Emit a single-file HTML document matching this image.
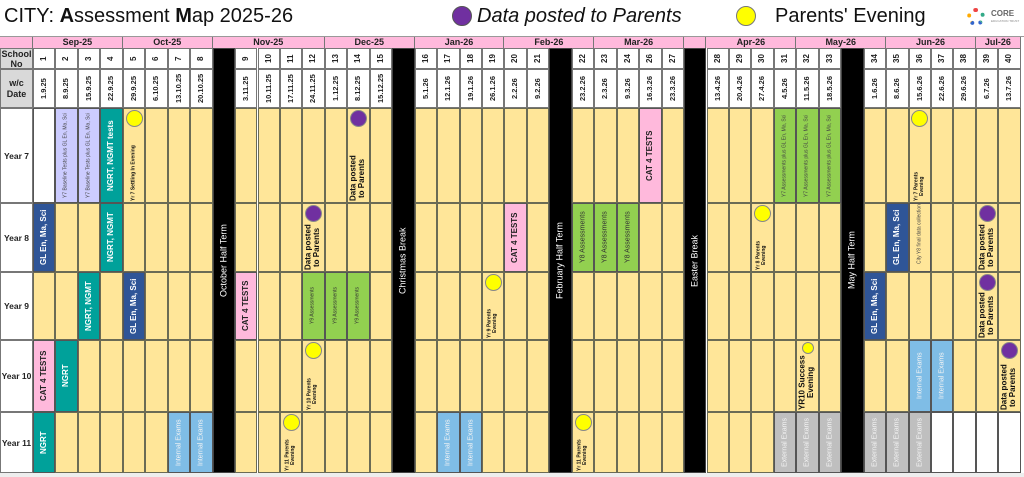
<!DOCTYPE html>
<html><head><meta charset="utf-8"><style>
*{margin:0;padding:0;box-sizing:border-box}
body{width:1024px;height:477px;background:#fff;position:relative;overflow:hidden;font-family:"Liberation Sans",sans-serif}
.a{position:absolute}
.v{display:flex;align-items:center;justify-content:center;writing-mode:vertical-rl;transform:rotate(180deg);text-align:center;line-height:1.1;width:100%;height:100%}
.c{border-radius:50%;border:1px solid #888}
</style></head><body>
<div class="a" style="left:4px;top:5px;font-size:20px;color:#111">CITY: <b>A</b>ssessment <b>M</b>ap 2025-26</div>
<div class="a c" style="left:452px;top:6px;width:20px;height:20px;background:#7030a0;border-color:#555"></div>
<div class="a" style="left:477px;top:5px;font-size:20px;font-style:italic;color:#111">Data posted to Parents</div>
<div class="a c" style="left:736px;top:6px;width:20px;height:20px;background:#ffff00;border-color:#777"></div>
<div class="a" style="left:775px;top:5px;font-size:20px;color:#111">Parents' Evening</div>
<div class="a c" style="left:967px;top:8px;width:18px;height:18px;border:4px dotted #c06;border-color:#e44 #3a8 #36c #fa0"></div>
<div class="a" style="left:991px;top:9px;font-size:8px;color:#666;font-weight:bold">CORE</div>
<div class="a" style="left:991px;top:19px;font-size:3px;color:#888">EDUCATION TRUST</div>
<div id="g"></div>
<script>
var g=document.getElementById('g');var h='';
function X(i){return 33+i*22.45}
function box(l,t,w,hh,st,inner){h+='<div class="a" style="left:'+l+'px;top:'+t+'px;width:'+w+'px;height:'+hh+'px;'+st+'">'+(inner||'')+'</div>';}
var W=22.45;
var rows=[[108,203,'Year 7'],[203,272,'Year 8'],[272,340,'Year 9'],[340,412,'Year 10'],[412,473,'Year 11']];
box(0,36,1024,1,'background:#999');
box(0,37,1021,11,'background:#ffb9dc');
var months=[[0,4,'Sep-25'],[4,8,'Oct-25'],[8,13,'Nov-25'],[13,17,'Dec-25'],[17,21,'Jan-26'],[21,25,'Feb-26'],[25,29,'Mar-26'],[29,30,''],[30,34,'Apr-26'],[34,38,'May-26'],[38,42,'Jun-26'],[42,44,'Jul-26']];
box(0,37,33,11,'border-right:1px solid #777');
months.forEach(function(m){box(X(m[0]),37,(m[1]-m[0])*W,11,'border-right:1px solid #777;font-size:9px;font-weight:bold;text-align:center;line-height:11px;color:#222',m[2]);});
box(0,48,33,21,'background:#d9d9d9;border:1px solid #777;font-size:9px;font-weight:bold;text-align:center;line-height:10px;color:#222','School<br>No');
box(0,69,33,39,'background:#d9d9d9;border:1px solid #777;font-size:9px;font-weight:bold;text-align:center;line-height:11px;padding-top:8px;color:#222','w/c<br>Date');
rows.forEach(function(r){box(0,r[0],33,r[1]-r[0],'background:#fff;border:1px solid #777;font-size:8.5px;font-weight:bold;display:flex;align-items:center;justify-content:center;white-space:nowrap;color:#222',r[2]);});
var nums=['1','2','3','4','5','6','7','8','','9','10','11','12','13','14','15','','16','17','18','19','20','21','','22','23','24','26','27','','28','29','30','31','32','33','','34','35','36','37','38','39','40'];
var dates=['1.9.25','8.9.25','15.9.25','22.9.25','29.9.25','6.10.25','13.10.25','20.10.25','','3.11.25','10.11.25','17.11.25','24.11.25','1.12.25','8.12.25','15.12.25','','5.1.26','12.1.26','19.1.26','26.1.26','2.2.26','9.2.26','','23.2.26','2.3.26','9.3.26','16.3.26','23.3.26','','13.4.26','20.4.26','27.4.26','4.5.26','11.5.26','18.5.26','','1.6.26','8.6.26','15.6.26','22.6.26','29.6.26','6.7.26','13.7.26'];
var brk={8:'October Half Term',16:'Christmas Break',23:'February Half Term',29:'Easter Break',36:'May Half Term'};
for(var i=0;i<44;i++){
 if(brk[i]){box(X(i),48,W,425,'background:#000;border:1px solid #444','<div class="v" style="color:#fff;font-size:9px;white-space:nowrap">'+brk[i]+'</div>');continue;}
 box(X(i),48,W,21,'background:#fff;border:1px solid #777','<div class="v" style="font-size:8px;font-weight:bold;color:#222">'+nums[i]+'</div>');
 box(X(i),69,W,39,'background:#fff;border:1px solid #777','<div class="v" style="font-size:7.5px;font-weight:bold;color:#222;white-space:nowrap">'+dates[i]+'</div>');
 rows.forEach(function(r){box(X(i),r[0],W,r[1]-r[0],'background:#ffe699;border:1px solid #6b6b55');});
}
function cell(c,r,bg,txt,st){var rr=rows[r];box(X(c),rr[0],W,rr[1]-rr[0],'background:'+bg+';border:1px solid #555','<div class="v" style="'+st+'">'+txt+'</div>');}
var teal='#00a19a',blue='#2f5597',pink='#ffb9dc',grn='#92d050',lb='#7fbde6',gry='#bfbfbf';
var wb='color:#fff;font-size:8px;font-weight:bold;white-space:nowrap;';
var bk='color:#222;font-size:8px;font-weight:bold;white-space:nowrap;';
var sm='color:#444;font-size:5px;padding:0 2px;';
var ex='color:#f4f4f4;font-size:7px;white-space:nowrap;';
cell(0,0,'#fff','','');
cell(1,0,'#ccccff','Y7 Baseline Tests plus GL En, Ma, Sci',sm);
cell(2,0,'#ccccff','Y7 Baseline Tests plus GL En, Ma, Sci',sm);
cell(3,0,teal,'NGRT, NGMT tests',wb);
cell(27,0,pink,'CAT 4 TESTS',bk);
[33,34,35].forEach(function(c){cell(c,0,grn,'Y7 Assessments plus GL En, Ma, Sci',sm);});
cell(0,1,blue,'GL En, Ma, Sci',wb);
cell(3,1,teal,'NGRT, NGMT',wb);
cell(21,1,pink,'CAT 4 TESTS',bk);
[24,25,26].forEach(function(c){cell(c,1,grn,'Y8 Assessments','color:#333;font-size:7px;white-space:nowrap;');});
cell(38,1,blue,'GL En, Ma, Sci',wb);
cell(39,1,'#ffe699','City Y8 final data collection',sm+'justify-content:flex-end;');
cell(2,2,teal,'NGRT, NGMT',wb);
cell(4,2,blue,'GL En, Ma, Sci',wb);
cell(9,2,pink,'CAT 4 TESTS',bk);
[12,13,14].forEach(function(c){cell(c,2,grn,'Y9 Assessments','color:#333;font-size:5px;white-space:nowrap;');});
cell(37,2,blue,'GL En, Ma, Sci',wb);
cell(0,3,pink,'CAT 4 TESTS',bk);
cell(1,3,teal,'NGRT',wb);
cell(39,3,lb,'Internal Exams',ex);
cell(40,3,lb,'Internal Exams',ex);
cell(0,4,teal,'NGRT',wb);
[6,7,18,19].forEach(function(c){cell(c,4,lb,'Internal Exams',ex);});
[33,34,35,37,38,39].forEach(function(c){cell(c,4,gry,'External Exams',ex);});
[40,41,42,43].forEach(function(c){cell(c,4,'#fff','','');});
function circ(c,r,col,d,dy){var rr=rows[r];box(X(c)+(W-d)/2,rr[0]+(dy||2),d,d,'background:'+col+';border-radius:50%;border:1px solid #888');}
function lab(c,r,txt,fs,top){var rr=rows[r];box(X(c),rr[0]+top,W,rr[1]-rr[0]-top-2,'','<div class="v" style="justify-content:flex-start;color:#111;font-weight:bold;white-space:nowrap;font-size:'+fs+'px;">'+txt+'</div>');}
var Y='#ffff00',P='#7030a0';
circ(4,0,Y,17);lab(4,0,'Yr 7 Settling In Evening',5,22);
circ(14,0,P,17);lab(14,0,'Data posted<br>to Parents',8,22);
circ(39,0,Y,17);lab(39,0,'Yr 7 Parents<br>Evening',5,22);
circ(12,1,P,17);lab(12,1,'Data posted<br>to Parents',8,22);
circ(32,1,Y,17);lab(32,1,'Yr 8 Parents<br>Evening',5,22);
circ(42,1,P,17);lab(42,1,'Data posted<br>to Parents',8,22);
circ(20,2,Y,17);lab(20,2,'Yr 9 Parents<br>Evening',5,22);
circ(42,2,P,17);lab(42,2,'Data posted<br>to Parents',8,22);
circ(12,3,Y,17);lab(12,3,'Yr 10 Parents<br>Evening',5,22);
circ(34,3,Y,12);lab(34,3,'YR10 Success<br>Evening',8,16);
circ(43,3,P,17);lab(43,3,'Data posted<br>to Parents',8,22);
circ(11,4,Y,17);lab(11,4,'Yr 11 Parents<br>Evening',5,22);
circ(24,4,Y,17);lab(24,4,'Yr 11 Parents<br>Evening',5,22);
box(0,473,1024,4,'background:#eee');
g.innerHTML=h;
</script>
</body></html>
